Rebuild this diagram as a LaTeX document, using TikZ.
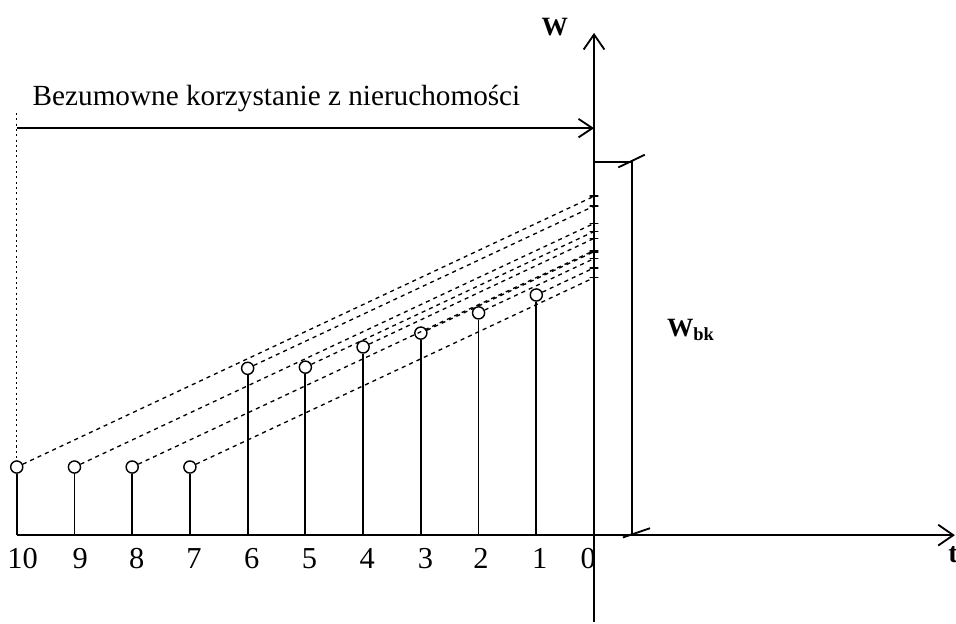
\documentclass[tikz,border=0pt]{standalone}
\usepackage{fontspec}
\setmainfont{Liberation Serif}
\usetikzlibrary{
    arrows.meta,
    positioning,
    calc
}
\tikzset{
    % --- Axis line with open arrow head ---
    axis arrow/.style = {
        -{Straight Barb[length=2.6mm, width=3.6mm]},
        line width=0.9pt
    },
    % --- Span arrow (period of use) ---
    span arrow/.style = {
        -{Straight Barb[length=2.4mm, width=3.2mm]},
        line width=0.9pt
    },
    % --- Value stem (vertical bar of one year) ---
    stem/.style = {
        line width=0.9pt
    },
    % --- Open circle at the top of a stem ---
    val circle/.style = {
        circle, draw, line width=0.7pt, fill=white,
        minimum size=0.21cm, inner sep=0pt
    },
    % --- Dashed projection to the W axis ---
    proj line/.style = {
        dash pattern=on 2pt off 2pt, line width=0.65pt
    },
    % --- Small mark where a projection meets the W axis ---
    end tick/.style = {
        draw, line width=0.8pt,
        minimum width=0.15cm, minimum height=0pt, inner sep=0pt
    },
    % --- Dotted guide line ---
    guide/.style = {
        dash pattern=on 1pt off 1.6pt, line width=0.5pt
    },
    % --- Dimension bracket of W_bk ---
    bracket/.style = {
        line width=0.9pt
    },
    % --- Year label under the t axis ---
    tick label/.style = {
        anchor=base, font=\fontsize{15}{17}\selectfont
    },
    % --- Axis name ---
    axis label/.style = {
        font=\fontsize{13}{15}\selectfont\bfseries
    }
}

\begin{document}
\begin{tikzpicture}[x=1cm, y=1cm]

\useasboundingbox (-10.29,-1.525) rectangle (6.27,9.27);

% ---------------------------------------------------------
% Axes
% ---------------------------------------------------------
\coordinate (wbot) at (0,-1.5);
\coordinate (wtop) at (0,8.70);
\coordinate (tstart) at (-10,0);
\coordinate (tend) at (6.25,0);

\draw[axis arrow] (wbot) -- (wtop);
\draw[axis arrow] (tstart) -- (tend);

\node[axis label] (Wlabel) at (-0.68,8.80) {W};
\node[font=\fontsize{14}{16}\selectfont\bfseries] (tlabel) at (6.22,-0.33) {t};

% ---------------------------------------------------------
% Period of use (top arrow)
% ---------------------------------------------------------
\coordinate (spanL) at (-10,7.05);
\coordinate (spanR) at (0,7.05);
\draw[span arrow] (spanL) -- (spanR);
\node[font=\fontsize{14.4}{16}\selectfont] (spantext) at (-5.50,7.56)
    {Bezumowne korzystanie z nieruchomości};

% ---------------------------------------------------------
% Stems and circles (years 10 ... 1)
% ---------------------------------------------------------
\node[val circle] (c10) at (-10,1.18) {};
\node[val circle] (c9) at (-9,1.18) {};
\node[val circle] (c8) at (-8,1.18) {};
\node[val circle] (c7) at (-7,1.18) {};
\node[val circle] (c6) at (-6,2.89) {};
\node[val circle] (c5) at (-5,2.91) {};
\node[val circle] (c4) at (-4,3.26) {};
\node[val circle] (c3) at (-3,3.50) {};
\node[val circle] (c2) at (-2,3.85) {};
\node[val circle] (c1) at (-1,4.16) {};

\coordinate (b10) at (-10,0);
\coordinate (b9) at (-9,0);
\coordinate (b8) at (-8,0);
\coordinate (b7) at (-7,0);
\coordinate (b6) at (-6,0);
\coordinate (b5) at (-5,0);
\coordinate (b4) at (-4,0);
\coordinate (b3) at (-3,0);
\coordinate (b2) at (-2,0);
\coordinate (b1) at (-1,0);

\draw[stem] (b10) -- (c10);
\draw[stem] (b9) -- (c9);
\draw[stem] (b8) -- (c8);
\draw[stem] (b7) -- (c7);
\draw[stem] (b6) -- (c6);
\draw[stem] (b5) -- (c5);
\draw[stem] (b4) -- (c4);
\draw[stem] (b3) -- (c3);
\draw[stem] (b2) -- (c2);
\draw[stem] (b1) -- (c1);

% dotted guide above year 10
\coordinate (guidetop) at (-10,7.31);
\draw[guide] (guidetop) -- (c10);

% ---------------------------------------------------------
% Projections onto the W axis
% ---------------------------------------------------------
\coordinate (e10) at (0,5.87);
\coordinate (e9) at (0,5.40);
\coordinate (e8) at (0,4.93);
\coordinate (e7) at (0,4.46);
\coordinate (e6) at (0,5.70);
\coordinate (e5) at (0,5.26);
\coordinate (e4) at (0,5.14);
\coordinate (e3) at (0,4.91);
\coordinate (e2) at (0,4.79);
\coordinate (e1) at (0,4.63);

\draw[proj line] (c10) -- (e10);
\draw[proj line] (c9) -- (e9);
\draw[proj line] (c8) -- (e8);
\draw[proj line] (c7) -- (e7);
\draw[proj line] (c6) -- (e6);
\draw[proj line] (c5) -- (e5);
\draw[proj line] (c4) -- (e4);
\draw[proj line] (c3) -- (e3);
\draw[proj line] (c2) -- (e2);
\draw[proj line] (c1) -- (e1);

\node[end tick] at (e10) {};
\node[end tick] at (e9) {};
\node[end tick] at (e8) {};
\node[end tick] at (e7) {};
\node[end tick] at (e6) {};
\node[end tick] at (e5) {};
\node[end tick] at (e4) {};
\node[end tick] at (e3) {};
\node[end tick] at (e2) {};
\node[end tick] at (e1) {};

% ---------------------------------------------------------
% Year labels
% ---------------------------------------------------------
\node[tick label] (l10) at (-9.90,-0.57) {10};
\node[tick label] (l9) at (-8.90,-0.57) {9};
\node[tick label] (l8) at (-7.92,-0.57) {8};
\node[tick label] (l7) at (-6.93,-0.57) {7};
\node[tick label] (l6) at (-5.93,-0.57) {6};
\node[tick label] (l5) at (-4.93,-0.57) {5};
\node[tick label] (l4) at (-3.93,-0.57) {4};
\node[tick label] (l3) at (-2.92,-0.57) {3};
\node[tick label] (l2) at (-1.96,-0.57) {2};
\node[tick label] (l1) at (-0.94,-0.57) {1};
\node[tick label] (l0) at (-0.10,-0.57) {0};

% ---------------------------------------------------------
% W_bk dimension bracket
% ---------------------------------------------------------
\coordinate (bkStart) at (0,6.46);
\coordinate (bkTop) at (0.66,6.46);
\coordinate (bkBot) at (0.66,0);
\draw[bracket] (bkStart) -- (bkTop) -- (bkBot);
\draw[bracket] ($(bkTop)+(-0.24,-0.09)$) -- ($(bkTop)+(0.22,0.13)$);
\draw[bracket] ($(bkBot)+(-0.16,-0.04)$) -- ($(bkBot)+(0.31,0.12)$);

\node[axis label] (Wbk) at (1.68,3.55) {W\textsubscript{bk}};

\end{tikzpicture}
\end{document}
